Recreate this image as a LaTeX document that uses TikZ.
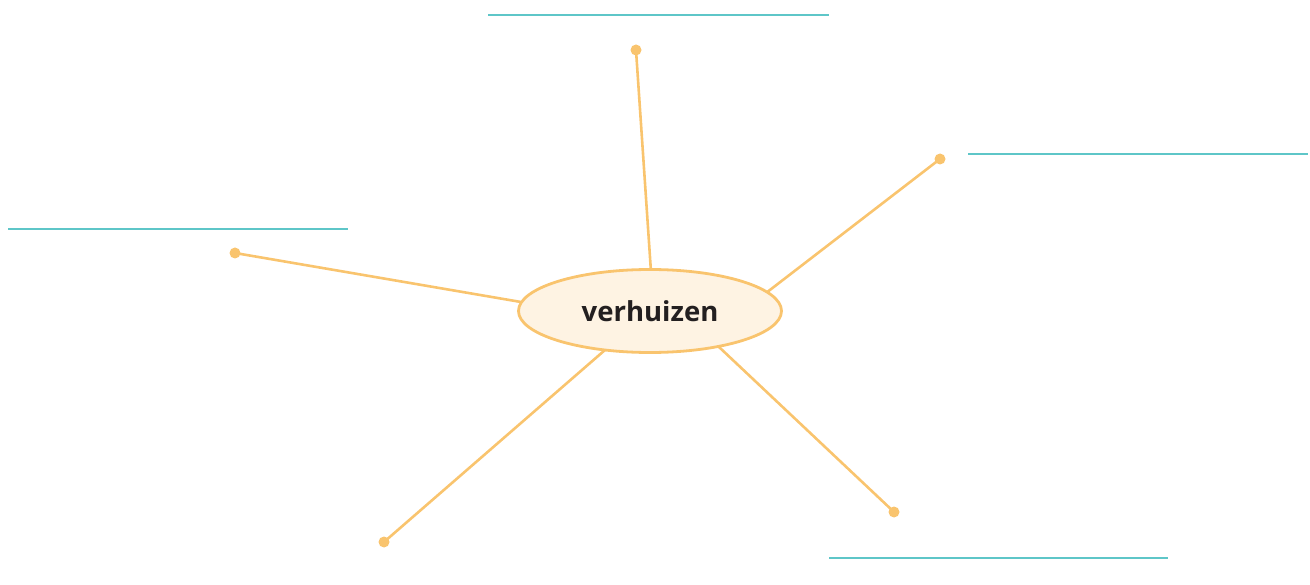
\documentclass[tikz,border=0pt]{standalone}
\usepackage{fontspec}
\setmainfont{Open Sans}
\usetikzlibrary{shapes.geometric}
\definecolor{orangeline}{HTML}{F9C46E}
\definecolor{creamfill}{HTML}{FEF3E3}
\definecolor{cyanline}{HTML}{5EC6C8}
\definecolor{textdark}{HTML}{231F20}
\begin{document}
\begin{tikzpicture}[x=1pt,y=-1pt,
  spoke/.style={draw=orangeline,line width=2.6pt},
  enddot/.style={circle,fill=orangeline,inner sep=0pt,minimum size=11pt},
  writeline/.style={draw=cyanline,line width=1.6pt},
  hub/.style={ellipse,draw=orangeline,fill=creamfill,line width=2.8pt,minimum width=263pt,minimum height=83pt,inner sep=0pt,text=textdark,font=\fontsize{27.5}{32}\selectfont\bfseries}]
\useasboundingbox (0,0) rectangle (1310,585);
\node[enddot] (d1) at (636,50) {};
\node[enddot] (d2) at (940,159) {};
\node[enddot] (d3) at (235,253) {};
\node[enddot] (d4) at (384,542) {};
\node[enddot] (d5) at (894,512) {};
\coordinate (p1) at (651,272);
\coordinate (p2) at (766,293);
\coordinate (p3) at (521,302);
\coordinate (p4) at (605,350);
\coordinate (p5) at (719,347);
\draw[spoke] (d1.center) -- (p1);
\draw[spoke] (d2.center) -- (p2);
\draw[spoke] (d3.center) -- (p3);
\draw[spoke] (d4.center) -- (p4);
\draw[spoke] (d5.center) -- (p5);
\node[hub] (c) at (650,311) {verhuizen};
\coordinate (a1) at (488,15); \coordinate (b1) at (829,15);
\coordinate (a2) at (968,154); \coordinate (b2) at (1308,154);
\coordinate (a3) at (8,229); \coordinate (b3) at (348,229);
\coordinate (a4) at (829,558); \coordinate (b4) at (1168,558);
\draw[writeline] (a1) -- (b1);
\draw[writeline] (a2) -- (b2);
\draw[writeline] (a3) -- (b3);
\draw[writeline] (a4) -- (b4);
\end{tikzpicture}
\end{document}
